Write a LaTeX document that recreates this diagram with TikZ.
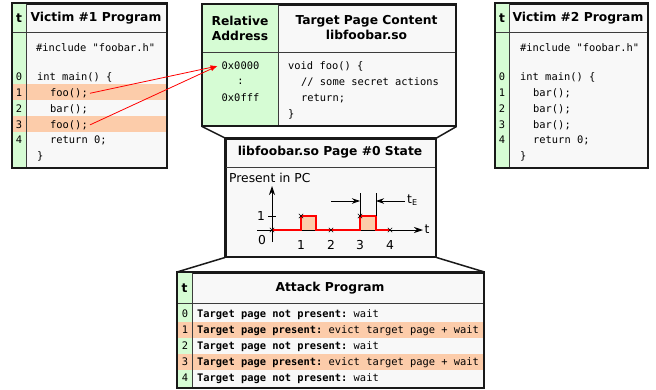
\documentclass[tikz,border=0pt]{standalone}
\usepackage{fontspec}
\setmainfont{DejaVu Sans}
\setmonofont{DejaVu Sans Mono}
\usetikzlibrary{arrows.meta, calc, shadows}
\definecolor{cBox} {RGB}{248,248,248}
\definecolor{cCol} {RGB}{214,252,212}
\definecolor{cHit} {RGB}{252,204,170}
\definecolor{cDark}{RGB}{25,25,25}

\begin{document}
\begin{tikzpicture}[
  x=1pt, y=-1pt,
  % ── shared box style
  frame/.style={
    draw=cDark, fill=cBox, line width=1.5pt, inner sep=0pt,
    anchor=north west,
    drop shadow={shadow xshift=1pt, shadow yshift=-1pt, fill=black!50}
  },
  rim/.style ={draw=cDark, line width=1.5pt},
  sep/.style ={draw=cDark!85, line width=0.8pt},
  % ── texts
  hdr/.style ={font=\fontsize{12.3}{15}\selectfont\bfseries, align=center, inner sep=0pt},
  code/.style={font=\fontsize{10.4}{12}\selectfont\ttfamily, anchor=base west, inner sep=0pt},
  num/.style ={font=\fontsize{10.4}{12}\selectfont\ttfamily, anchor=base, inner sep=0pt},
  lbl/.style ={font=\fontsize{12.3}{14}\selectfont, inner sep=0pt},
  % ── arrows and signal
  ptr/.style ={-{Latex[length=7pt,width=4.5pt]}, draw=red, line width=0.8pt},
  axis/.style={-{Stealth[length=9pt,width=6pt]}, draw=black, line width=0.9pt},
  dim/.style ={-{Stealth[length=8pt,width=5.5pt]}, draw=black, line width=0.8pt},
  sig/.style ={draw=red, line width=1.6pt},
  xmk/.style ={draw=black, line width=0.6pt},
]
\useasboundingbox (0,0) rectangle (656,389);

%% ═══════════════════════════════════════════════════════════════════════════
%%  VICTIM #1 PROGRAM
%% ═══════════════════════════════════════════════════════════════════════════

\node[frame, minimum width=154pt, minimum height=164pt] (v1) at (12,3) {};
\fill[cCol] (12,3) rectangle (26,167);
\fill[cHit] (12,84.3) rectangle (166,100.1);
\fill[cHit] (12,115.9) rectangle (166,131.7);
\draw[sep] (26,3) -- (26,167);
\draw[sep] (12,32) -- (166,32);
\draw[rim] (v1.north west) rectangle (v1.south east);

\node[hdr] (v1t) at (19,18) {t};
\node[hdr] (v1h) at (96,18) {Victim \#1 Program};

\foreach \k in {0,...,4}
  \node[num] (v1n\k) at (19,{80.7+15.8*\k}) {\k};

\node[code] (v1inc)  at (36,51)    {\#include "foobar.h"};
\node[code] (v1main) at (37,80.7)  {int main() \{};
\node[code] (v1foo1) at (50,96.5)  {foo();};
\node[code] (v1bar2) at (50,112.3) {bar();};
\node[code] (v1foo3) at (50,128.1) {foo();};
\node[code] (v1ret)  at (50,143.9) {return 0;};
\node[code] (v1end)  at (37,159.7) {\}};

%% ═══════════════════════════════════════════════════════════════════════════
%%  VICTIM #2 PROGRAM
%% ═══════════════════════════════════════════════════════════════════════════

\node[frame, minimum width=152pt, minimum height=164pt] (v2) at (495,3) {};
\fill[cCol] (495,3) rectangle (509,167);
\draw[sep] (509,3) -- (509,167);
\draw[sep] (495,32) -- (647,32);
\draw[rim] (v2.north west) rectangle (v2.south east);

\node[hdr] (v2t) at (502,18) {t};
\node[hdr] (v2h) at (578,18) {Victim \#2 Program};

\foreach \k in {0,...,4}
  \node[num] (v2n\k) at (502,{80.7+15.8*\k}) {\k};

\node[code] (v2inc)  at (520,51)    {\#include "foobar.h"};
\node[code] (v2main) at (520,80.7)  {int main() \{};
\node[code] (v2bar1) at (533,96.5)  {bar();};
\node[code] (v2bar2) at (533,112.3) {bar();};
\node[code] (v2bar3) at (533,128.1) {bar();};
\node[code] (v2ret)  at (533,143.9) {return 0;};
\node[code] (v2end)  at (520,159.7) {\}};

%% ═══════════════════════════════════════════════════════════════════════════
%%  TARGET PAGE
%% ═══════════════════════════════════════════════════════════════════════════

\node[frame, minimum width=253pt, minimum height=121pt] (tp) at (202,4) {};
\fill[cCol] (202,4) rectangle (278,125);
\draw[sep] (278,4) -- (278,125);
\draw[sep] (202,52) -- (455,52);
\draw[rim] (tp.north west) rectangle (tp.south east);

\node[hdr] (tpa) at (240,28)   {Relative\\Address};
\node[hdr] (tpc) at (366.5,28) {Target Page Content\\libfoobar.so};

\node[num]  (addr0) at (240.5,69.8)  {0x0000};
\node[num]  (addrd) at (240.5,84.8)  {:};
\node[num]  (addr1) at (240.5,101.4) {0x0fff};

\node[code] (tpfn)  at (288,69.8)  {void foo() \{};
\node[code] (tpcm)  at (301,85.6)  {// some secret actions};
\node[code] (tpret) at (301,101.4) {return;};
\node[code] (tpend) at (288,117.2) {\}};

% foo() calls point at the page start
\draw[ptr] ([xshift=2pt]v1foo1.east) -- ([xshift=-4pt]addr0.west);
\draw[ptr] ([xshift=2pt]v1foo3.east) -- ([xshift=-4pt]addr0.west);

%% ═══════════════════════════════════════════════════════════════════════════
%%  PAGE STATE
%% ═══════════════════════════════════════════════════════════════════════════

\node[frame, minimum width=210pt, minimum height=118pt] (st) at (225,138) {};
\draw[sep] (225,167) -- (435,167);
\draw[rim] (st.north west) rectangle (st.south east);

\node[hdr] (sth) at (330,152.5) {libfoobar.so Page \#0 State};
\node[lbl, anchor=west] (stp) at (229,178) {Present in PC};

% pulses
\fill[cHit] (301,216) rectangle (316,230);
\fill[cHit] (360,216) rectangle (376,230);

% axes
\draw[axis] (272,242) -- (272,186);
\draw[axis] (257,230) -- (423,230);
\draw[xmk] (268,216) -- (276,216);

\draw[sig] (272,230) -- (301,230) -- (301,216) -- (316,216) -- (316,230)
  -- (360,230) -- (360,216) -- (376,216) -- (376,230) -- (390,230);

\foreach \x/\y in {272/230, 301/216, 331/230, 360/216, 390/230}
  \draw[xmk] (\x-2.2,\y-2.2) -- (\x+2.2,\y+2.2) (\x-2.2,\y+2.2) -- (\x+2.2,\y-2.2);

\node[lbl] (ly0) at (262,240) {0};
\node[lbl] (ly1) at (261,216) {1};
\foreach \k/\x in {1/301, 2/331, 3/360, 4/390}
  \node[lbl] (lx\k) at (\x,245) {\k};
\node[lbl] (lxt) at (427,229) {t};

% eviction time
\draw[xmk] (360,193) -- (360,216);
\draw[xmk] (376,193) -- (376,216);
\draw[dim] (331,201) -- (360,201);
\draw[dim] (405,201) -- (376,201);
\node[lbl, anchor=west] (tE) at (407,200)
  {t\raisebox{-2.5pt}{\fontsize{8}{8}\selectfont E}};

%% ═══════════════════════════════════════════════════════════════════════════
%%  ATTACK PROGRAM
%% ═══════════════════════════════════════════════════════════════════════════

\node[frame, minimum width=306pt, minimum height=115pt] (ap) at (177,272) {};
\fill[cCol] (177,272) rectangle (192,387);
\fill[cHit] (177,322) rectangle (483,338);
\fill[cHit] (177,354) rectangle (483,370);
\draw[sep] (192,272) -- (192,387);
\draw[sep] (177,303) -- (483,303);
\draw[rim] (ap.north west) rectangle (ap.south east);

\node[hdr] (apt) at (184.5,288) {t};
\node[hdr] (aph) at (330,288)   {Attack Program};

\foreach \k in {0,...,4}
  \node[num] (apn\k) at (185,{317.8+16*\k}) {\k};

\node[code] (ap0) at (197,317.8) {\textbf{Target page not present:} wait};
\node[code] (ap1) at (197,333.8) {\textbf{Target page present:} evict target page + wait};
\node[code] (ap2) at (197,349.8) {\textbf{Target page not present:} wait};
\node[code] (ap3) at (197,365.8) {\textbf{Target page present:} evict target page + wait};
\node[code] (ap4) at (197,381.8) {\textbf{Target page not present:} wait};

%% ═══════════════════════════════════════════════════════════════════════════
%%  ZOOM LINES
%% ═══════════════════════════════════════════════════════════════════════════

\draw[rim] (tp.south west) -- (st.north west);
\draw[rim] (tp.south east) -- (st.north east);
\draw[rim] (st.south west) -- (ap.north west);
\draw[rim] (st.south east) -- (ap.north east);

\end{tikzpicture}
\end{document}
